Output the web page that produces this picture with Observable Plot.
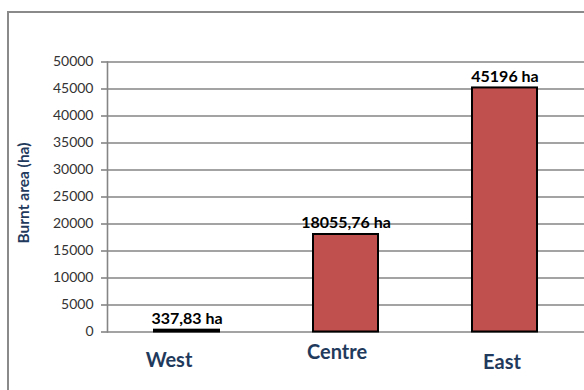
<!DOCTYPE html>
<html>
<head>
<meta charset="utf-8">
<script src="https://cdn.jsdelivr.net/npm/d3@7"></script>
<script src="https://cdn.jsdelivr.net/npm/@observablehq/plot@0.6"></script>
<style>
  html, body { margin: 0; padding: 0; overflow: hidden; background: #fff; }
  #wrap { position: relative; width: 584px; height: 390px; overflow: hidden; }
  #border { position: absolute; left: 7px; top: 11px; width: 700px; height: 500px;
            border-left: 2px solid #8a8a8a; border-top: 2px solid #8a8a8a; pointer-events: none; }
</style>
</head>
<body>
<div id="wrap"><div id="border"></div></div>
<script>
const regions = ["West", "Centre", "East"];
const burntArea = [337.83, 18055.76, 45196];
const yTicks = [0, 5000, 10000, 15000, 20000, 25000, 30000, 35000, 40000, 45000, 50000];
const yTitle = "Burnt area (ha)";

const data = regions.map((r, i) => ({region: r, area: burntArea[i]}));
const fmt = v => String(v).replace(".", ",") + " ha";

// category label offsets (style, not data)
const catOffset = {West: {dx: -18, dy: 29}, Centre: {dx: -9, dy: 21}, East: {dx: -3, dy: 30.5}};
const navy = "#1f3a5c";

const chart = Plot.plot({
  width: 584,
  height: 390,
  marginLeft: 107,
  marginRight: 0,
  marginTop: 61.5,
  marginBottom: 58.5,
  style: {fontFamily: "Lato, sans-serif", background: "transparent"},
  x: {type: "band", domain: regions, paddingInner: 0.59, paddingOuter: 0.295, axis: null},
  y: {domain: [0, 50000], axis: null},
  marks: [
    Plot.ruleY(yTicks, {stroke: "#858585", strokeWidth: 1.6}),
    Plot.frame({anchor: "left", stroke: "#858585", strokeWidth: 1.6}),
    Plot.axisY({ticks: yTicks, tickFormat: d => String(d), tickSize: 6, tickPadding: 8,
                stroke: "#858585", strokeWidth: 1.6, fill: "#333", fontSize: 14, label: null}),
    Plot.barY(data, {x: "region", y: "area", fill: "#c0504d", stroke: "#000", strokeWidth: 2}),
    Plot.text(data, {x: "region", y: "area", text: d => fmt(d.area), lineAnchor: "bottom", dy: -6,
                     fontWeight: "bold", fontSize: 16, fill: "#000"}),
    ...regions.map(r => Plot.text([r], {x: d => d, y: () => 0, text: d => d,
                     dx: catOffset[r].dx, dy: catOffset[r].dy,
                     fontWeight: "bold", fontSize: 20, fill: navy})),
    Plot.text([yTitle], {frameAnchor: "left", textAnchor: "middle", text: d => d, rotate: -90, dx: -83, dy: -4,
                     fontWeight: "bold", fontSize: 15.5, fill: navy})
  ]
});
document.getElementById("wrap").prepend(chart);
</script>
</body>
</html>
